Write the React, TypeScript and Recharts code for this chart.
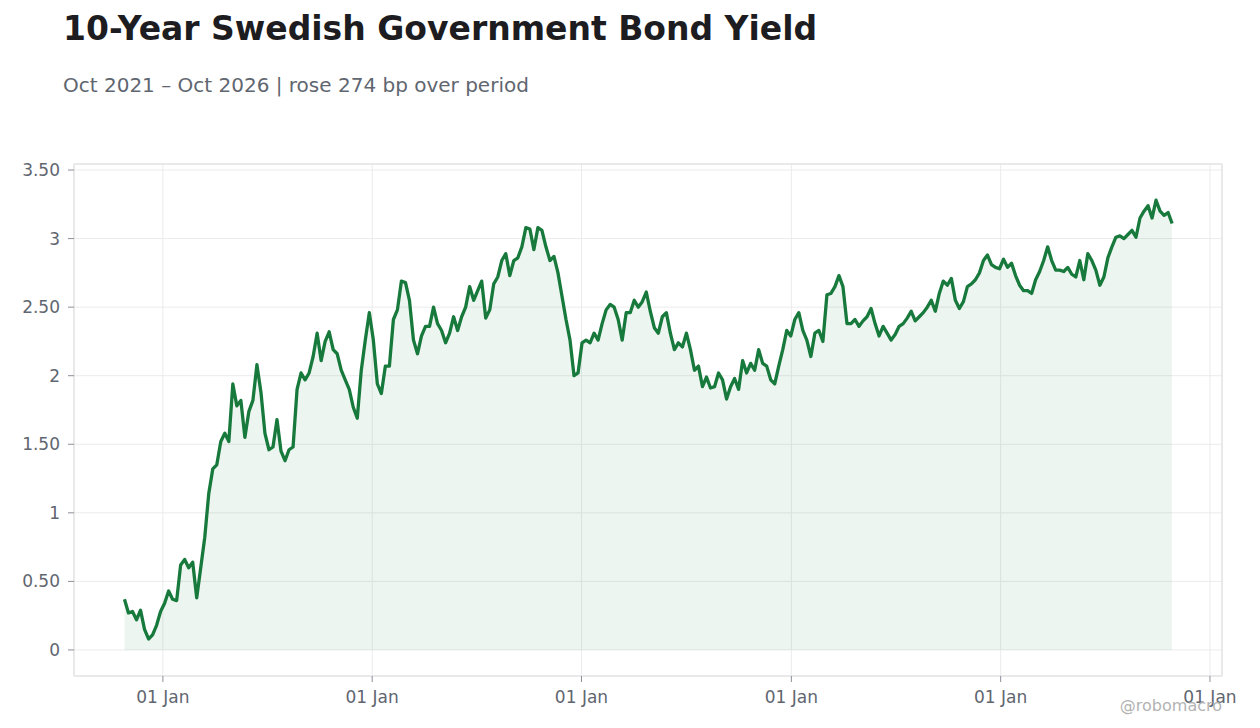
import { Area, CartesianGrid, ComposedChart, Line, ReferenceArea, XAxis, YAxis } from "recharts";

// weekly closes, starting late Oct 2021
const START = Date.UTC(2021, 9, 26);
const WEEK_MS = 7 * 24 * 3600 * 1000;

const yields = [
  0.37, 0.27, 0.28, 0.22, 0.29, 0.15, 0.08, 0.11, 0.18, 0.28,
  0.34, 0.43, 0.37, 0.36, 0.62, 0.66, 0.6, 0.64, 0.38, 0.6,
  0.82, 1.14, 1.32, 1.35, 1.52, 1.58, 1.52, 1.94, 1.78, 1.82,
  1.55, 1.74, 1.82, 2.08, 1.88, 1.58, 1.46, 1.48, 1.68, 1.45,
  1.38, 1.46, 1.48, 1.9, 2.02, 1.97, 2.02, 2.14, 2.31, 2.11,
  2.25, 2.32, 2.19, 2.16, 2.04, 1.97, 1.9, 1.77, 1.69, 2.04,
  2.26, 2.46, 2.26, 1.94, 1.87, 2.07, 2.07, 2.41, 2.48, 2.69,
  2.68, 2.55, 2.26, 2.16, 2.29, 2.36, 2.36, 2.5, 2.38, 2.33,
  2.24, 2.31, 2.43, 2.33, 2.43, 2.5, 2.65, 2.55, 2.62, 2.69,
  2.42, 2.48, 2.67, 2.72, 2.84, 2.89, 2.73, 2.84, 2.86, 2.94,
  3.08, 3.07, 2.92, 3.08, 3.06, 2.94, 2.84, 2.87, 2.75, 2.58,
  2.41, 2.26, 2.0, 2.02, 2.24, 2.26, 2.24, 2.31, 2.26, 2.38,
  2.48, 2.52, 2.5, 2.41, 2.26, 2.46, 2.46, 2.55, 2.5, 2.54,
  2.61, 2.47, 2.35, 2.31, 2.43, 2.46, 2.31, 2.19, 2.24, 2.21,
  2.31, 2.19, 2.04, 2.07, 1.92, 1.99, 1.91, 1.92, 2.02, 1.97,
  1.83, 1.92, 1.98, 1.9, 2.11, 2.02, 2.09, 2.04, 2.19, 2.09,
  2.07, 1.97, 1.94, 2.07, 2.19, 2.33, 2.29, 2.41, 2.46, 2.33,
  2.26, 2.14, 2.31, 2.33, 2.25, 2.59, 2.6, 2.65, 2.73, 2.65,
  2.38, 2.38, 2.41, 2.36, 2.4, 2.43, 2.49, 2.38, 2.29, 2.36,
  2.31, 2.26, 2.3, 2.36, 2.38, 2.42, 2.47, 2.4, 2.43, 2.46,
  2.5, 2.55, 2.47, 2.6, 2.69, 2.66, 2.71, 2.55, 2.49, 2.54,
  2.65, 2.67, 2.7, 2.75, 2.84, 2.88, 2.81, 2.79, 2.78, 2.85,
  2.79, 2.82, 2.73, 2.66, 2.62, 2.62, 2.6, 2.7, 2.76, 2.84,
  2.94, 2.84, 2.77, 2.77, 2.76, 2.79, 2.74, 2.72, 2.84, 2.7,
  2.89, 2.84, 2.77, 2.66, 2.72, 2.86, 2.94, 3.01, 3.02, 3.0,
  3.03, 3.06, 3.01, 3.15, 3.2, 3.24, 3.15, 3.28, 3.2, 3.17,
  3.19, 3.11,
];

const yearTicks = [2022, 2023, 2024, 2025, 2026, 2027].map((y) => Date.UTC(y, 0, 1));
const yTicks = [0, 0.5, 1, 1.5, 2, 2.5, 3, 3.5];

const X_DOMAIN: [number, number] = [Date.UTC(2021, 6, 30), Date.UTC(2027, 0, 22)];
const Y_DOMAIN: [number, number] = [-0.19, 3.544];

const data = yields.map((v, i) => ({ t: START + i * WEEK_MS, y: v }));

const FONT = "'DejaVu Sans', Verdana, sans-serif";
const GREEN = "#177a3c";
const tickStyle = { fontSize: 17, fill: "#5f6670", fontFamily: FONT };

export default function App() {
  return (
    <div style={{ position: "absolute", left: 0, top: 0, width: 1260, height: 728, background: "#fff" }}>
      <ComposedChart width={1260} height={728} data={data} margin={{ top: 164, right: 38, bottom: 22, left: 0 }}>
        <CartesianGrid stroke="#ebebeb" />
        <ReferenceArea
          x1={X_DOMAIN[0]}
          x2={X_DOMAIN[1]}
          y1={Y_DOMAIN[0]}
          y2={Y_DOMAIN[1]}
          fill="none"
          stroke="#dddddd"
          strokeWidth={1}
          ifOverflow="extendDomain"
        />
        <XAxis
          dataKey="t"
          type="number"
          scale="time"
          domain={X_DOMAIN}
          ticks={yearTicks}
          tickFormatter={() => "01 Jan"}
          axisLine={false}
          tickLine={{ stroke: "#8a8f98" }}
          tickSize={6}
          tickMargin={9}
          height={30}
          tick={tickStyle}
          allowDataOverflow
        />
        <YAxis
          type="number"
          domain={Y_DOMAIN}
          ticks={yTicks}
          tickFormatter={(v: number) => (Number.isInteger(v) ? String(v) : v.toFixed(2))}
          axisLine={false}
          tickLine={{ stroke: "#8a8f98" }}
          tickSize={6}
          tickMargin={8}
          width={74}
          tick={tickStyle}
          allowDataOverflow
        />
        <Area dataKey="y" type="linear" stroke="none" fill={GREEN} fillOpacity={0.08} isAnimationActive={false} />
        <Line dataKey="y" type="linear" stroke={GREEN} strokeWidth={3.3} strokeLinejoin="round" dot={false} isAnimationActive={false} />
      </ComposedChart>
      <svg width={1260} height={728} style={{ position: "absolute", left: 0, top: 0, pointerEvents: "none" }}>
        <text x={63} y={40} fontFamily={FONT} fontSize={33} fontWeight="bold" fill="#1c1c21">
          10-Year Swedish Government Bond Yield
        </text>
        <text x={63} y={92} fontFamily={FONT} fontSize={20} fill="#5f6670">
          Oct 2021 – Oct 2026 | rose 274 bp over period
        </text>
        <text x={1222} y={711} textAnchor="end" fontFamily={FONT} fontSize={16} fill="#b3b3b3">
          @robomacro
        </text>
      </svg>
    </div>
  );
}
